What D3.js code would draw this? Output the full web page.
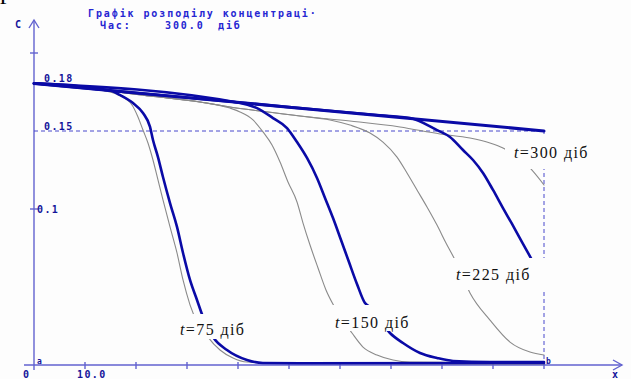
<!DOCTYPE html>
<html><head><meta charset="utf-8">
<script src="https://cdn.jsdelivr.net/npm/d3@7"></script>
<style>
html,body{margin:0;padding:0;background:#fff;}
svg{display:block;}
</style></head>
<body>
<script>
// ---- data (x, concentration) ----
const xTickValues = [0,10,20,30,40,50,60,70,80,90,100];
const xTickLabels = {0:"0", 10:"10.0"};
const yTickValues = [0.1, 0.2];
const yLabels = [{v:0.18, t:"0.18"}, {v:0.15, t:"0.15"}, {v:0.1, t:"0.1"}];
const refLevel = 0.15;
const xMax = 100;

const blue300 = [[0,0.1805],[50,0.1653],[100,0.1500]];
const gray300 = [[0,0.1805],[12.94,0.1763],[22.75,0.1724],[32.55,0.1686],[38.43,0.1654],[44.31,0.1628],[52.16,0.1596],[61.96,0.1564],[71.76,0.1526],[79.61,0.1481],[85.49,0.1455],[89.41,0.1423],[91.96,0.1391],[97.25,0.1263],[100,0.1154]];
const blue75 = [[0,0.1805],[14.9,0.1760],[16.86,0.1731],[19.41,0.1679],[21.37,0.1615],[22.75,0.1526],[23.33,0.1442],[24.31,0.1333],[25.29,0.1205],[26.67,0.1038],[28.04,0.0885],[29.22,0.0718],[30.59,0.0545],[31.96,0.0417],[33.14,0.0308],[35.1,0.0179],[37.84,0.0096],[41.76,0.0032],[44.9,0.0013],[52.16,0.0011],[100,0.0013]];
const gray75 = [[0,0.1805],[12.94,0.1763],[16.47,0.1731],[19.22,0.1667],[20.39,0.1590],[21.37,0.1506],[22.35,0.1423],[23.33,0.1314],[24.31,0.1186],[25.29,0.1058],[26.67,0.0885],[28.04,0.0718],[29.22,0.0545],[30.59,0.0385],[34.12,0.0179],[36.47,0.0096],[39.02,0.0045],[41.76,0.0019],[52.16,0.0010],[100,0.0006]];
const blue150 = [[0,0.1805],[40.39,0.1680],[43.73,0.1647],[46.86,0.1583],[49.61,0.1519],[51.57,0.1429],[53.53,0.1327],[55.49,0.1199],[57.06,0.1071],[58.63,0.0942],[60.2,0.0801],[61.76,0.0660],[63.33,0.0519],[64.9,0.0397],[66.27,0.0365],[69.8,0.0205],[72.35,0.0141],[75.69,0.0077],[79.02,0.0045],[82.16,0.0026],[89.41,0.0019],[100,0.0019]];
const gray150 = [[0,0.1805],[12.94,0.1763],[22.75,0.1724],[32.55,0.1686],[38.43,0.1647],[40.39,0.1622],[42.94,0.1571],[44.9,0.1494],[46.67,0.1410],[48.24,0.1301],[49.8,0.1173],[51.57,0.1045],[52.75,0.0910],[54.12,0.0769],[55.69,0.0622],[57.25,0.0481],[58.82,0.0378],[62.35,0.0205],[64.51,0.0115],[67.25,0.0064],[70.39,0.0032],[73.73,0.0019],[100,0.0013]];
const blue225 = [[0,0.1805],[50,0.1653],[67.84,0.1601],[73.73,0.1583],[79.02,0.1506],[81.57,0.1462],[84.12,0.1378],[86.08,0.1314],[88.04,0.1231],[90.0,0.1122],[91.96,0.1006],[93.73,0.0904],[95.69,0.0788],[97.65,0.0673],[100,0.0532]];
const gray225 = [[0,0.1805],[12.94,0.1763],[22.75,0.1724],[32.55,0.1686],[38.43,0.1654],[44.31,0.1628],[52.16,0.1596],[58.04,0.1571],[61.96,0.1538],[65.88,0.1487],[68.43,0.1429],[71.18,0.1333],[73.14,0.1231],[75.1,0.1122],[77.06,0.1013],[79.02,0.0897],[80.78,0.0782],[82.55,0.0673],[83.92,0.0571],[85.49,0.0462],[89.41,0.0288],[93.33,0.0147],[97.25,0.0083],[100,0.0064]];

const labels = [
  {days:"75",  bx:174, by:314, bw:88, bh:25, tx:180, ty:335},
  {days:"150", bx:328, by:305, bw:94, bh:26, tx:335, ty:328},
  {days:"225", bx:450, by:258, bw:98, bh:32, tx:456, ty:280},
  {days:"300", bx:505, by:134, bw:96, bh:35, tx:514, ty:158}
];

const W = 631, H = 379;
const svg = d3.select("body").append("svg").attr("width", W).attr("height", H);
svg.append("rect").attr("width", W).attr("height", H).attr("fill", "#fdfdfd");

const x = d3.scaleLinear().domain([0, xMax]).range([34, 544]);
const y = d3.scaleLinear().domain([0, 0.2]).range([365, 53]);

const axisCol = "#6262cf", navy = "#14149a", curveBlue = "#0a0aa6", grayCol = "#8a8a8a";
const bmpFont = "'DejaVu Sans Mono', monospace";

// partial letter at top-left
svg.append("text").attr("x", 0).attr("y", -1).attr("font-family", "'Liberation Serif', serif")
  .attr("font-size", 26).attr("fill", "#000").text("р");

// title
const title = svg.append("g").attr("font-family", bmpFont).attr("font-weight", "bold")
  .attr("font-size", 10).attr("fill", "#2626d2").attr("letter-spacing", 1.9);
title.append("text").attr("x", 88).attr("y", 17).text("Графік розподілу концентраці·");
title.append("text").attr("x", 100).attr("y", 29).text("Час:");
title.append("text").attr("x", 165).attr("y", 29).text("300.0");
title.append("text").attr("x", 218).attr("y", 29).text("діб");

// axes
const ax = svg.append("g").attr("stroke", axisCol).attr("stroke-width", 1.4).attr("fill", "none");
ax.append("line").attr("x1", x(0)).attr("x2", x(0)).attr("y1", 20).attr("y2", 370);
ax.append("line").attr("x1", 24).attr("x2", 622).attr("y1", y(0)).attr("y2", y(0));
ax.append("polyline").attr("points", `${x(0)-5},28 ${x(0)},20 ${x(0)+5},28`);
ax.append("polyline").attr("points", `613,${y(0)-5} 622,${y(0)} 613,${y(0)+5}`);
xTickValues.filter(d => d > 0).forEach(d => {
  ax.append("line").attr("x1", x(d)).attr("x2", x(d)).attr("y1", y(0)-3).attr("y2", y(0)+4);
});
yTickValues.forEach(d => {
  ax.append("line").attr("x1", x(0)-4).attr("x2", x(0)+4).attr("y1", y(d)).attr("y2", y(d));
});

// dashed reference lines
const dash = svg.append("g").attr("stroke", "#4848cc").attr("stroke-width", 1).attr("stroke-dasharray", "4,3");
dash.append("line").attr("x1", x(0)).attr("x2", x(xMax)).attr("y1", y(refLevel)).attr("y2", y(refLevel));
dash.append("line").attr("x1", x(xMax)).attr("x2", x(xMax)).attr("y1", y(refLevel)).attr("y2", y(0));

// axis texts
const at = svg.append("g").attr("font-family", bmpFont).attr("font-weight", "bold")
  .attr("font-size", 10).attr("fill", navy).attr("letter-spacing", 1.4);
at.append("text").attr("x", 44).attr("y", y(0.18) - 2).text(yLabels[0].t);
at.append("text").attr("x", 44).attr("y", y(0.15) - 1).text(yLabels[1].t);
at.append("text").attr("x", 37).attr("y", y(0.1) + 4).text(yLabels[2].t);
at.append("text").attr("x", 15).attr("y", 28).text("C");
at.append("text").attr("x", 23).attr("y", 378).text(xTickLabels[0]);
at.append("text").attr("x", 77).attr("y", 378).text(xTickLabels[10]);
at.append("text").attr("x", 612).attr("y", 378).text("x");
at.append("text").attr("x", 37).attr("y", 364).attr("font-size", 8).text("a");
at.append("text").attr("x", 546).attr("y", 364).attr("font-size", 8).text("b");

// curves
const line = d3.line().x(d => x(d[0])).y(d => y(d[1])).curve(d3.curveMonotoneX);
const cg = svg.append("g").attr("fill", "none").attr("stroke-linejoin", "round").attr("stroke-linecap", "round");
[gray300, gray225, gray150, gray75].forEach(s => {
  cg.append("path").attr("d", line(s)).attr("stroke", grayCol).attr("stroke-width", 1.1);
});
[blue225, blue150, blue75].forEach(s => {
  cg.append("path").attr("d", line(s)).attr("stroke", curveBlue).attr("stroke-width", 2.6);
});
cg.append("path").attr("d", line(blue300)).attr("stroke", curveBlue).attr("stroke-width", 3);

// labels
const lg = svg.append("g");
labels.forEach(l => {
  lg.append("rect").attr("x", l.bx).attr("y", l.by).attr("width", l.bw).attr("height", l.bh).attr("fill", "#fdfdfd");
  const t = lg.append("text").attr("x", l.tx).attr("y", l.ty)
    .attr("font-family", "'Liberation Serif', 'Times New Roman', serif").attr("font-size", 16)
    .attr("letter-spacing", 1.4).attr("fill", "#111");
  t.append("tspan").attr("font-style", "italic").text("t");
  t.append("tspan").text("=" + l.days + " діб");
});
</script>
</body></html>
